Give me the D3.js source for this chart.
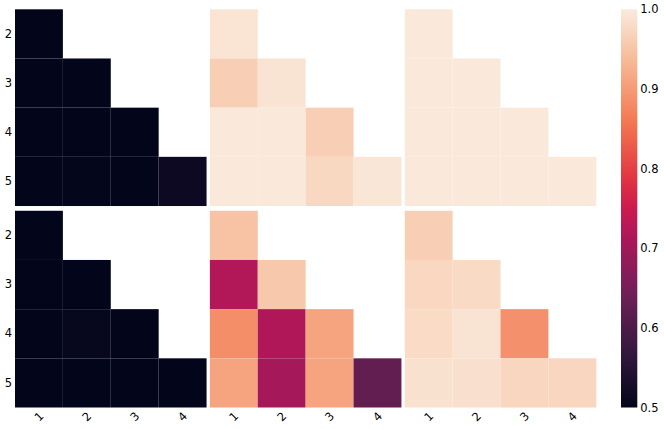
<!DOCTYPE html>
<html>
<head>
<meta charset="utf-8">
<script src="https://cdn.jsdelivr.net/npm/d3@7"></script>
<style>
  html, body { margin: 0; padding: 0; background: #fff; }
  svg { display: block; }
  text { font-family: "DejaVu Sans", sans-serif; fill: #000; }
</style>
</head>
<body>
<svg id="chart" width="664" height="429"></svg>
<script>
// ---------- data ----------
const rowLabels = ["2", "3", "4", "5"];
const colLabels = ["1", "2", "3", "4"];
const colorbarTicks = [0.5, 0.6, 0.7, 0.8, 0.9, 1.0];
const vmin = 0.5, vmax = 1.0;

// lower-triangular matrices: row i (label rowLabels[i]) has i+1 values
const panelTopLeft = [
  [0.50],
  [0.50, 0.50],
  [0.50, 0.50, 0.50],
  [0.50, 0.502, 0.50, 0.516]
];
const panelTopMid = [
  [0.992],
  [0.963, 0.990],
  [0.998, 0.998, 0.962],
  [0.998, 0.998, 0.975, 0.994]
];
const panelTopRight = [
  [0.998],
  [0.998, 0.998],
  [0.998, 0.998, 0.998],
  [0.998, 0.998, 0.998, 0.998]
];
const panelBotLeft = [
  [0.50],
  [0.50, 0.50],
  [0.50, 0.506, 0.50],
  [0.50, 0.50, 0.50, 0.50]
];
const panelBotMid = [
  [0.948],
  [0.720, 0.955],
  [0.885, 0.718, 0.910],
  [0.910, 0.705, 0.910, 0.627]
];
const panelBotRight = [
  [0.963],
  [0.974, 0.978],
  [0.979, 0.990, 0.888],
  [0.987, 0.986, 0.973, 0.973]
];
const panels = [
  [panelTopLeft, panelTopMid, panelTopRight],
  [panelBotLeft, panelBotMid, panelBotRight]
];

// rocket colormap stops
const rocketStops = [
  [0.0, "#03051a"], [1/7, "#35193e"], [2/7, "#701f57"], [3/7, "#ad1759"],
  [0.5, "#cb1b4f"], [4/7, "#e13342"], [5/7, "#f37651"], [6/7, "#f6b48f"], [1.0, "#faebdd"]
];

// ---------- layout ----------
const svg = d3.select("#chart");
const gridLeft = 15, gridRight = 596.3, gridTop = 9.3, gridBottom = 407.5;
const colGap = 3.3, rowGap = 4.7;

const panelX = d3.scaleBand().domain([0, 1, 2]).range([gridLeft, gridRight]).paddingInner(colGap / ((gridRight - gridLeft) / 3));
const panelY = d3.scaleBand().domain([0, 1]).range([gridTop, gridBottom]).paddingInner(rowGap / ((gridBottom - gridTop) / 2));

const rocket = d3.scaleLinear()
  .domain(rocketStops.map(d => d[0]))
  .range(rocketStops.map(d => d[1]))
  .interpolate(d3.interpolateRgb)
  .clamp(true);
const color = v => rocket((v - vmin) / (vmax - vmin));

panels.forEach((rowPanels, pr) => {
  rowPanels.forEach((mat, pc) => {
    const x = d3.scaleBand().domain(colLabels).range([panelX(pc), panelX(pc) + panelX.bandwidth()]);
    const y = d3.scaleBand().domain(rowLabels).range([panelY(pr), panelY(pr) + panelY.bandwidth()]);
    const cells = [];
    mat.forEach((row, i) => row.forEach((v, j) => cells.push({ r: rowLabels[i], c: colLabels[j], v })));
    const g = svg.append("g");
    g.selectAll("rect").data(cells).join("rect")
      .attr("x", d => x(d.c))
      .attr("y", d => y(d.r))
      .attr("width", x.bandwidth())
      .attr("height", y.bandwidth())
      .attr("fill", d => color(d.v));

    if (pc === 0) {
      const ya = d3.axisLeft(y).tickSize(0).tickPadding(3);
      const ag = svg.append("g").attr("transform", `translate(${panelX(pc)},0)`).call(ya);
      ag.select(".domain").remove();
      ag.selectAll("text").style("font-size", "11.5px").style("font-family", "DejaVu Sans");
    }
    if (pr === 1) {
      const xa = d3.axisBottom(x).tickSize(0).tickPadding(0);
      const ag = svg.append("g").attr("transform", `translate(0,${panelY(pr) + panelY.bandwidth()})`).call(xa);
      ag.select(".domain").remove();
      ag.selectAll("text")
        .style("font-size", "11.5px").style("font-family", "DejaVu Sans")
        .attr("y", 0).attr("dy", 0)
        .attr("text-anchor", "middle")
        .attr("dominant-baseline", "central")
        .attr("transform", "translate(0,9) rotate(-45)");
    }
  });
});

// ---------- colorbar ----------
const cbX = 621, cbW = 16.3;
const cbScale = d3.scaleLinear().domain([vmin, vmax]).range([gridBottom, gridTop]);
const defs = svg.append("defs");
const grad = defs.append("linearGradient").attr("id", "cbgrad")
  .attr("x1", 0).attr("y1", 1).attr("x2", 0).attr("y2", 0);
d3.range(0, 1.0001, 0.02).forEach(t => {
  grad.append("stop").attr("offset", t).attr("stop-color", rocket(t));
});
svg.append("rect")
  .attr("x", cbX).attr("y", cbScale(vmax))
  .attr("width", cbW).attr("height", cbScale(vmin) - cbScale(vmax))
  .attr("fill", "url(#cbgrad)");
const cbAxis = d3.axisRight(cbScale).tickValues(colorbarTicks).tickFormat(d3.format(".1f")).tickSize(0).tickPadding(3);
const cbg = svg.append("g").attr("transform", `translate(${cbX + cbW},0)`).call(cbAxis);
cbg.select(".domain").remove();
cbg.selectAll("text").style("font-size", "11.5px").style("font-family", "DejaVu Sans");
</script>
</body>
</html>
